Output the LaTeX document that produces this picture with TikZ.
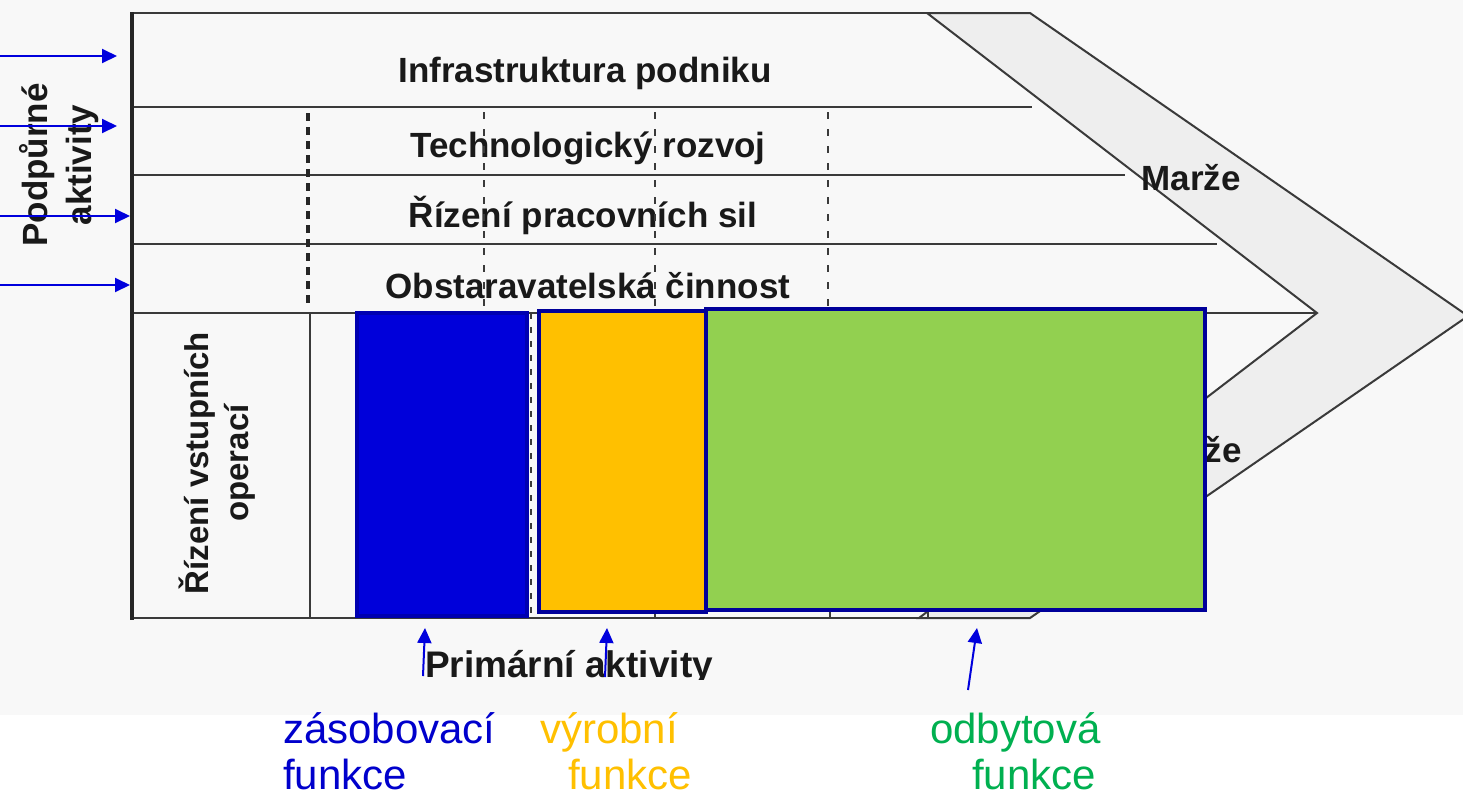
\documentclass[tikz,border=0pt]{standalone}
\usepackage{fontspec}
\setmainfont{Liberation Sans}
\usetikzlibrary{arrows.meta}
\definecolor{bgc}{HTML}{F8F8F8}
\definecolor{chev}{HTML}{EEEEEE}
\definecolor{lin}{HTML}{3A3A3A}
\definecolor{bfill}{HTML}{0000DA}
\definecolor{bedge}{HTML}{0000B0}
\definecolor{ofill}{HTML}{FFC000}
\definecolor{redge}{HTML}{00009A}
\definecolor{gfill}{HTML}{92D050}
\definecolor{tblue}{HTML}{0000CC}
\definecolor{torange}{HTML}{FFC000}
\definecolor{tgreen}{HTML}{00B050}
\definecolor{arr}{HTML}{0000DD}
\begin{document}
\begin{tikzpicture}[x=1pt,y=-1pt,
  gline/.style={draw=lin,line width=2.8pt},
  fline/.style={draw=black!85,line width=4pt},
  dline/.style={draw=lin,line width=2.6pt,dash pattern=on 7pt off 10pt},
  dthick/.style={draw=black!85,line width=3.6pt,dash pattern=on 8pt off 6pt},
  supp/.style={font=\fontsize{35}{40}\selectfont\bfseries,text=black!90,inner sep=0pt,anchor=base},
  rot/.style={font=\fontsize{35}{44}\selectfont\bfseries,text=black!90,inner sep=0pt,rotate=90,align=center},
  lab/.style={font=\fontsize{42}{46}\selectfont,inner sep=0pt,anchor=base west},
  ptr/.style={draw=arr,line width=2pt,-{Triangle[length=15pt,width=14pt]}},
  area/.style={line width=3.5pt}]
\useasboundingbox (0,0) rectangle (1463,796);
\fill[white] (0,0) rectangle (1463,796);
\fill[bgc] (0,0) rectangle (1463,715);
% chevron
\draw[draw=lin,line width=2pt,fill=chev] (927,13) -- (1030,13) -- (1468,316) -- (1030,618) -- (919,618) -- (1317,313) -- cycle;
% horizontal lines
\draw[gline] (132,13) -- (1030,13);
\draw[gline] (132,107) -- (1032,107);
\draw[gline] (132,175) -- (1125,175);
\draw[gline] (132,244) -- (1217,244);
\draw[gline] (132,313) -- (1317,313);
\draw[gline] (132,618) -- (1030,618);
% primary dividers
\draw[gline] (310,313) -- (310,618);
\draw[draw=lin,line width=1.8pt,dash pattern=on 6pt off 8pt] (531,313) -- (531,618);
\draw[gline] (655,313) -- (655,618);
\draw[gline] (830,313) -- (830,618);
\draw[gline] (928,313) -- (928,618);
% left frame line
\draw[fline] (132,12) -- (132,620);
% texts
\node[supp] (infra) at (585,82) {Infrastruktura podniku};
\node[supp] (tech) at (588,157) {Technologický rozvoj};
\node[supp] (hr) at (583,227) {Řízení pracovních sil};
\node[supp] (proc) at (588,298) {Obstaravatelská činnost};
\node[supp] (marze1) at (1191,190) {Marže};
\node[supp] (marze2) at (1192,462) {Marže};
\node[rot] (podp) at (59,165) {Podpůrné\\aktivity};
\node[rot,font=\fontsize{33}{40}\selectfont\bfseries] (inb) at (217,463) {Řízení vstupních\\operací};
\begin{scope}
\clip (0,0) rectangle (1463,679);
\node[supp,font=\fontsize{37}{40}\selectfont\bfseries] (prim) at (569,677) {Primární aktivity};
\end{scope}
% support dashed verticals
\draw[dthick] (308,113) -- (308,305);
\draw[dline] (484,112) -- (484,310);
\draw[dline] (655,112) -- (655,310);
\draw[dline] (828,112) -- (828,310);
% coloured areas
\draw[area,draw=bedge,fill=bfill] (357,313) rectangle (527,616);
\draw[area,draw=redge,fill=ofill] (539,311) rectangle (706,612);
\draw[area,draw=redge,fill=gfill] (706,309) rectangle (1205,610);
% bottom labels
\node[lab,text=tblue] (zas1) at (283,743) {zásobovací};
\node[lab,text=tblue] (zas2) at (283,789) {funkce};
\node[lab,text=torange] (vyr1) at (540,743) {výrobní};
\node[lab,text=torange] (vyr2) at (568,789) {funkce};
\node[lab,text=tgreen] (odb1) at (930,743) {odbytová};
\node[lab,text=tgreen] (odb2) at (972,789) {funkce};
% arrows
\coordinate (s1) at (0,56);   \coordinate (e1) at (117,56);
\coordinate (s2) at (0,126);  \coordinate (e2) at (117,126);
\coordinate (s3) at (0,216);  \coordinate (e3) at (130,216);
\coordinate (s4) at (0,285);  \coordinate (e4) at (130,285);
\draw[ptr] (s1) -- (e1);
\draw[ptr] (s2) -- (e2);
\draw[ptr] (s3) -- (e3);
\draw[ptr] (s4) -- (e4);
\coordinate (b1) at (423,676); \coordinate (t1) at (425,628);
\coordinate (b2) at (605,677); \coordinate (t2) at (607,628);
\coordinate (b3) at (968,690); \coordinate (t3) at (977,628);
\draw[ptr] (b1) -- (t1);
\draw[ptr] (b2) -- (t2);
\draw[ptr] (b3) -- (t3);
\end{tikzpicture}
\end{document}
